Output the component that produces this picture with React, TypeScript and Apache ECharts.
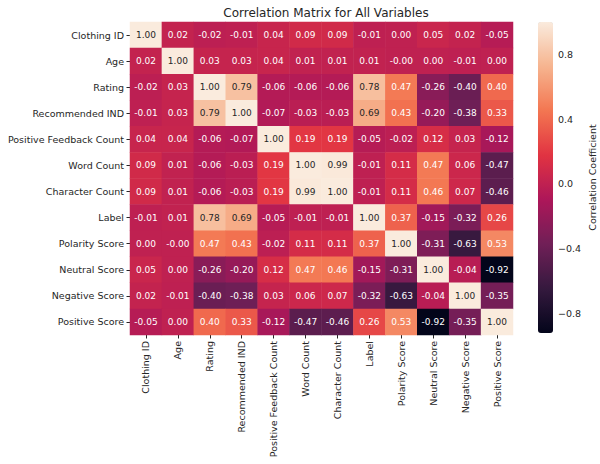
import React, { useEffect, useRef } from "react";
import * as echarts from "echarts";

const variables = [
  "Clothing ID",
  "Age",
  "Rating",
  "Recommended IND",
  "Positive Feedback Count",
  "Word Count",
  "Character Count",
  "Label",
  "Polarity Score",
  "Neutral Score",
  "Negative Score",
  "Positive Score",
];

// correlation rows, in the order of `variables`
const rowClothingId = [1.0, 0.02, -0.02, -0.01, 0.04, 0.09, 0.09, -0.01, 0.0, 0.05, 0.02, -0.05];
const rowAge = [0.02, 1.0, 0.03, 0.03, 0.04, 0.01, 0.01, 0.01, -0.004, 0.0, -0.01, 0.0];
const rowRating = [-0.02, 0.03, 1.0, 0.79, -0.06, -0.06, -0.06, 0.78, 0.47, -0.26, -0.4, 0.4];
const rowRecommended = [-0.01, 0.03, 0.79, 1.0, -0.07, -0.03, -0.03, 0.69, 0.43, -0.2, -0.38, 0.33];
const rowPosFeedback = [0.04, 0.04, -0.06, -0.07, 1.0, 0.19, 0.19, -0.05, -0.02, 0.12, 0.03, -0.12];
const rowWordCount = [0.09, 0.01, -0.06, -0.03, 0.19, 1.0, 0.99, -0.01, 0.11, 0.47, 0.06, -0.47];
const rowCharCount = [0.09, 0.01, -0.06, -0.03, 0.19, 0.99, 1.0, -0.01, 0.11, 0.46, 0.07, -0.46];
const rowLabel = [-0.01, 0.01, 0.78, 0.69, -0.05, -0.01, -0.01, 1.0, 0.37, -0.15, -0.32, 0.26];
const rowPolarity = [0.0, -0.004, 0.47, 0.43, -0.02, 0.11, 0.11, 0.37, 1.0, -0.31, -0.63, 0.53];
const rowNeutral = [0.05, 0.0, -0.26, -0.2, 0.12, 0.47, 0.46, -0.15, -0.31, 1.0, -0.04, -0.92];
const rowNegative = [0.02, -0.01, -0.4, -0.38, 0.03, 0.06, 0.07, -0.32, -0.63, -0.04, 1.0, -0.35];
const rowPositive = [-0.05, 0.0, 0.4, 0.33, -0.12, -0.47, -0.46, 0.26, 0.53, -0.92, -0.35, 1.0];

const corrRows = [
  rowClothingId,
  rowAge,
  rowRating,
  rowRecommended,
  rowPosFeedback,
  rowWordCount,
  rowCharCount,
  rowLabel,
  rowPolarity,
  rowNeutral,
  rowNegative,
  rowPositive,
];

const colorbarTicks = [-0.8, -0.4, 0.0, 0.4, 0.8];
const valueMin = -0.92;
const valueMax = 1.0;

// seaborn "rocket" colormap, evenly spaced stops
const rocketStops = [
  "#03051a",
  "#35193e",
  "#701f57",
  "#ad1759",
  "#e13342",
  "#f37651",
  "#f6b48f",
  "#faebdd",
];

const FONT = "DejaVu Sans";
const TEXT = "#262626";

export default function App() {
  const ref = useRef<HTMLDivElement>(null);

  useEffect(() => {
    const chart = echarts.init(ref.current!, null, { renderer: "svg" });
    const data: any[] = [];
    corrRows.forEach((row, i) =>
      row.forEach((v, j) => {
        data.push({
          value: [j, i, v],
          label: { color: v > 0.6 ? TEXT : "#ffffff" },
        });
      })
    );

    const option: any = {
      animation: false,
      backgroundColor: "#ffffff",
      title: {
        text: "Correlation Matrix for All Variables",
        left: 321,
        top: 2,
        textAlign: "center",
        textStyle: {
          fontFamily: FONT,
          fontSize: 12,
          fontWeight: "normal",
          color: TEXT,
        },
      },
      grid: [
        { left: 130, top: 22, width: 383, height: 313 },
        { left: 538, top: 22, width: 15, height: 311 },
      ],
      xAxis: [
        {
          type: "category",
          gridIndex: 0,
          data: variables,
          position: "bottom",
          axisLine: { show: false },
          axisTick: { show: true, alignWithLabel: true, length: 3.5, lineStyle: { color: TEXT } },
          axisLabel: {
            rotate: 90,
            interval: 0,
            margin: 6,
            fontFamily: FONT,
            fontSize: 9.5,
            color: TEXT,
          },
          splitLine: { show: false },
        },
        {
          type: "value",
          gridIndex: 1,
          show: false,
        },
      ],
      yAxis: [
        {
          type: "category",
          gridIndex: 0,
          data: variables,
          inverse: true,
          axisLine: { show: false },
          axisTick: { show: true, alignWithLabel: true, length: 3.5, lineStyle: { color: TEXT } },
          axisLabel: {
            interval: 0,
            margin: 6,
            fontFamily: FONT,
            fontSize: 9.5,
            color: TEXT,
          },
          splitLine: { show: false },
        },
        {
          type: "value",
          gridIndex: 1,
          position: "right",
          min: valueMin,
          max: valueMax,
          axisLine: { show: false },
          axisTick: {
            show: true,
            length: 3.5,
            customValues: colorbarTicks,
            lineStyle: { color: TEXT },
          },
          axisLabel: {
            margin: 5,
            customValues: colorbarTicks,
            fontFamily: FONT,
            fontSize: 9.5,
            color: TEXT,
            formatter: (v: number) => v.toFixed(1).replace("-", "\u2212"),
          },
          splitLine: { show: false },
          name: "Correlation Coefficient",
          nameLocation: "middle",
          nameRotate: 90,
          nameGap: 34,
          nameTextStyle: { fontFamily: FONT, fontSize: 9.5, color: TEXT },
        },
      ],
      visualMap: {
        type: "continuous",
        min: valueMin,
        max: valueMax,
        seriesIndex: 0,
        calculable: false,
        hoverLink: false,
        orient: "vertical",
        left: 538,
        top: 22,
        padding: 0,
        itemWidth: 15,
        itemHeight: 311,
        inRange: { color: rocketStops },
        textStyle: { color: TEXT },
      },
      series: [
        {
          type: "heatmap",
          xAxisIndex: 0,
          yAxisIndex: 0,
          data,
          label: {
            show: true,
            fontFamily: FONT,
            fontSize: 9,
            formatter: (p: any) => (p.value[2] as number).toFixed(2),
          },
          emphasis: { disabled: true },
          itemStyle: { borderWidth: 0 },
        },
      ],
    };

    chart.setOption(option);
    return () => chart.dispose();
  }, []);

  return (
    <div
      ref={ref}
      style={{ position: "fixed", left: 0, top: 0, width: 600, height: 464 }}
    />
  );
}
